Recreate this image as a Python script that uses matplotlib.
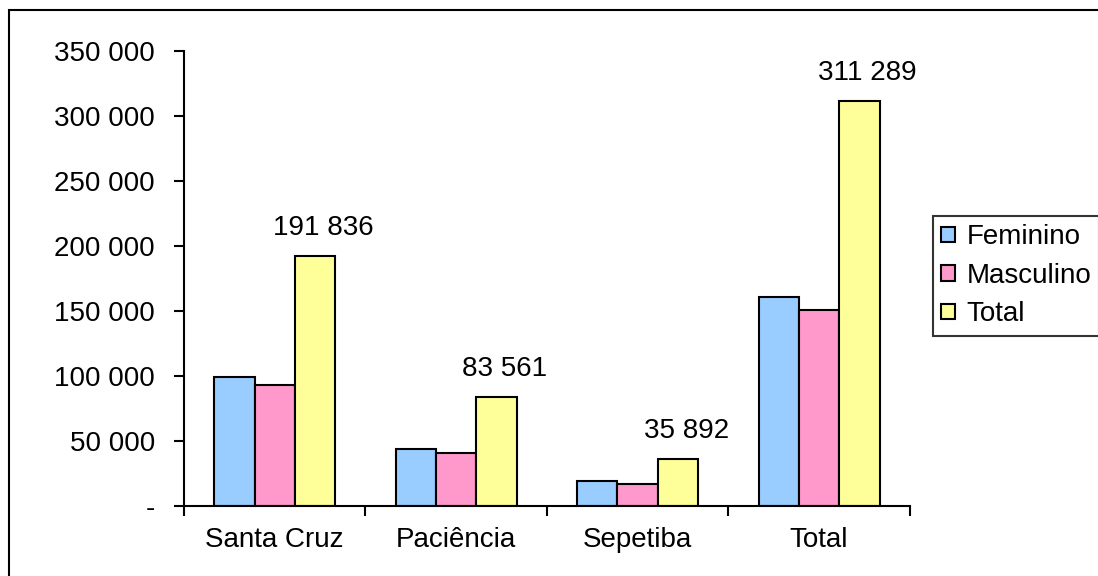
import matplotlib
matplotlib.use("Agg")
import matplotlib.pyplot as plt
from matplotlib.patches import Rectangle
from matplotlib.ticker import FuncFormatter
import numpy as np

plt.rcParams['font.family'] = ['Liberation Sans', 'DejaVu Sans']

categories = ["Santa Cruz", "Paciência", "Sepetiba", "Total"]
feminino = [98900, 43300, 18800, 160500]
masculino = [92936, 40261, 17092, 150789]
total = [191836, 83561, 35892, 311289]
total_labels = ["191 836", "83 561", "35 892", "311 289"]

series = [("Feminino", feminino, "#99CCFF"),
          ("Masculino", masculino, "#FF99CC"),
          ("Total", total, "#FFFF99")]

fig = plt.figure(figsize=(10.98, 5.76), dpi=100)
ax = fig.add_axes([0.1676, 0.122, 0.661, 0.790])

x = np.arange(len(categories))
w = 1 / 4.5
for i, (name, vals, col) in enumerate(series):
    ax.bar(x + (i - 1) * w, vals, w, color=col, edgecolor="black",
           linewidth=1.5, label=name)

# labels on the total bars
for xi, v, lab in zip(x, total, total_labels):
    ax.annotate(lab, (xi + w, v), xytext=(6, 15), textcoords="offset points",
                ha="center", va="baseline", fontsize=20)

ax.set_xlim(-0.5, len(categories) - 0.5)
ax.set_ylim(0, 350000)
ax.set_yticks(np.arange(0, 350001, 50000))


def fmt(v, pos):
    if v == 0:
        return "-"
    return f"{int(v):,}".replace(",", " ")


ax.yaxis.set_major_formatter(FuncFormatter(fmt))
ax.set_xticks(x)
ax.set_xticklabels(categories)
ax.set_xticks(np.arange(-0.5, len(categories)), minor=True)
ax.tick_params(axis="x", which="major", length=0, pad=15, labelsize=20)
ax.tick_params(axis="x", which="minor", length=7, width=1.5, direction="out")
ax.tick_params(axis="y", length=7, width=1.5, direction="out", pad=14, labelsize=20)

for s in ["top", "right"]:
    ax.spines[s].set_visible(False)
for s in ["left", "bottom"]:
    ax.spines[s].set_linewidth(1.5)

leg = fig.legend(loc="upper left", bbox_to_anchor=(933 / 1098, 1 - 216 / 576),
                 fontsize=20, frameon=True, fancybox=False, edgecolor="black",
                 handlelength=0.5, handleheight=0.5, handletextpad=0.4,
                 labelspacing=0.45, borderpad=0.3, borderaxespad=0)
leg.get_frame().set_linewidth(1.5)

# outer chart frame
fig.patches.append(Rectangle((9 / 1098, -0.05), 1.05, 1 - 10 / 576 + 0.05,
                             transform=fig.transFigure, fill=False,
                             edgecolor="black", linewidth=1.5))

fig.savefig("out.png", dpi=100)
